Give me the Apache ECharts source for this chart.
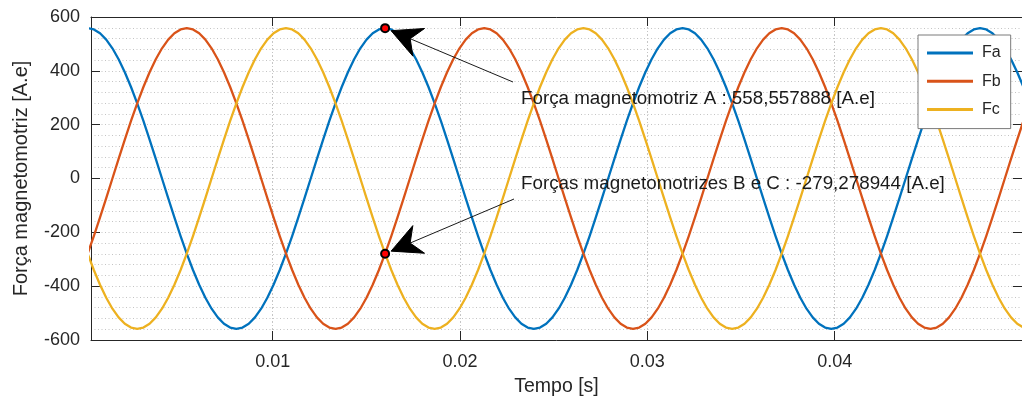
<!DOCTYPE html>
<html>
<head>
<meta charset="utf-8">
<script src="https://cdn.jsdelivr.net/npm/echarts@6/dist/echarts.min.js"></script>
<style>
  html, body { margin: 0; padding: 0; background: #ffffff; }
  #chart { width: 1022px; height: 403px; }
</style>
</head>
<body>
<div id="chart"></div>
<script>
// Sample instants [s]
const time = [
  0.000120, 0.000451, 0.000782, 0.001113, 0.001443, 0.001774, 0.002105, 0.002436,
  0.002767, 0.003098, 0.003428, 0.003759, 0.004090, 0.004421, 0.004752, 0.005083,
  0.005413, 0.005744, 0.006075, 0.006406, 0.006737, 0.007068, 0.007398, 0.007729,
  0.008060, 0.008391, 0.008722, 0.009053, 0.009383, 0.009714, 0.010045, 0.010376,
  0.010707, 0.011038, 0.011368, 0.011699, 0.012030, 0.012361, 0.012692, 0.013023,
  0.013353, 0.013684, 0.014015, 0.014346, 0.014677, 0.015008, 0.015338, 0.015669,
  0.016000, 0.016331, 0.016662, 0.016993, 0.017323, 0.017654, 0.017985, 0.018316,
  0.018647, 0.018978, 0.019308, 0.019639, 0.019970, 0.020301, 0.020632, 0.020963,
  0.021293, 0.021624, 0.021955, 0.022286, 0.022617, 0.022948, 0.023278, 0.023609,
  0.023940, 0.024271, 0.024602, 0.024933, 0.025263, 0.025594, 0.025925, 0.026256,
  0.026587, 0.026918, 0.027248, 0.027579, 0.027910, 0.028241, 0.028572, 0.028903,
  0.029233, 0.029564, 0.029895, 0.030226, 0.030557, 0.030888, 0.031218, 0.031549,
  0.031880, 0.032211, 0.032542, 0.032873, 0.033203, 0.033534, 0.033865, 0.034196,
  0.034527, 0.034858, 0.035188, 0.035519, 0.035850, 0.036181, 0.036512, 0.036843,
  0.037173, 0.037504, 0.037835, 0.038166, 0.038497, 0.038828, 0.039158, 0.039489,
  0.039820, 0.040151, 0.040482, 0.040813, 0.041143, 0.041474, 0.041805, 0.042136,
  0.042467, 0.042798, 0.043128, 0.043459, 0.043790, 0.044121, 0.044452, 0.044783,
  0.045113, 0.045444, 0.045775, 0.046106, 0.046437, 0.046768, 0.047098, 0.047429,
  0.047760, 0.048091, 0.048422, 0.048753, 0.049083, 0.049414, 0.049745, 0.050076
];

// Magnetomotive force of phase A [A.e]
const Fa = [
  558.56, 553.78, 539.53, 516.04, 483.73, 443.13, 394.96, 340.03,
  279.28, 213.75, 144.57, 72.91, 0, -72.91, -144.57, -213.75,
  -279.28, -340.03, -394.96, -443.13, -483.73, -516.04, -539.53, -553.78,
  -558.56, -553.78, -539.53, -516.04, -483.73, -443.13, -394.96, -340.03,
  -279.28, -213.75, -144.57, -72.91, 0, 72.91, 144.57, 213.75,
  279.28, 340.03, 394.96, 443.13, 483.73, 516.04, 539.53, 553.78,
  558.557888, 553.78, 539.53, 516.04, 483.73, 443.13, 394.96, 340.03,
  279.28, 213.75, 144.57, 72.91, 0, -72.91, -144.57, -213.75,
  -279.28, -340.03, -394.96, -443.13, -483.73, -516.04, -539.53, -553.78,
  -558.56, -553.78, -539.53, -516.04, -483.73, -443.13, -394.96, -340.03,
  -279.28, -213.75, -144.57, -72.91, 0, 72.91, 144.57, 213.75,
  279.28, 340.03, 394.96, 443.13, 483.73, 516.04, 539.53, 553.78,
  558.56, 553.78, 539.53, 516.04, 483.73, 443.13, 394.96, 340.03,
  279.28, 213.75, 144.57, 72.91, 0, -72.91, -144.57, -213.75,
  -279.28, -340.03, -394.96, -443.13, -483.73, -516.04, -539.53, -553.78,
  -558.56, -553.78, -539.53, -516.04, -483.73, -443.13, -394.96, -340.03,
  -279.28, -213.75, -144.57, -72.91, 0, 72.91, 144.57, 213.75,
  279.28, 340.03, 394.96, 443.13, 483.73, 516.04, 539.53, 553.78,
  558.56, 553.78, 539.53, 516.04, 483.73, 443.13, 394.96, 340.03
];

// Magnetomotive force of phase B [A.e]
const Fb = [
  -279.28, -213.75, -144.57, -72.91, 0, 72.91, 144.57, 213.75,
  279.28, 340.03, 394.96, 443.13, 483.73, 516.04, 539.53, 553.78,
  558.56, 553.78, 539.53, 516.04, 483.73, 443.13, 394.96, 340.03,
  279.28, 213.75, 144.57, 72.91, 0, -72.91, -144.57, -213.75,
  -279.28, -340.03, -394.96, -443.13, -483.73, -516.04, -539.53, -553.78,
  -558.56, -553.78, -539.53, -516.04, -483.73, -443.13, -394.96, -340.03,
  -279.278944, -213.75, -144.57, -72.91, 0, 72.91, 144.57, 213.75,
  279.28, 340.03, 394.96, 443.13, 483.73, 516.04, 539.53, 553.78,
  558.56, 553.78, 539.53, 516.04, 483.73, 443.13, 394.96, 340.03,
  279.28, 213.75, 144.57, 72.91, 0, -72.91, -144.57, -213.75,
  -279.28, -340.03, -394.96, -443.13, -483.73, -516.04, -539.53, -553.78,
  -558.56, -553.78, -539.53, -516.04, -483.73, -443.13, -394.96, -340.03,
  -279.28, -213.75, -144.57, -72.91, 0, 72.91, 144.57, 213.75,
  279.28, 340.03, 394.96, 443.13, 483.73, 516.04, 539.53, 553.78,
  558.56, 553.78, 539.53, 516.04, 483.73, 443.13, 394.96, 340.03,
  279.28, 213.75, 144.57, 72.91, 0, -72.91, -144.57, -213.75,
  -279.28, -340.03, -394.96, -443.13, -483.73, -516.04, -539.53, -553.78,
  -558.56, -553.78, -539.53, -516.04, -483.73, -443.13, -394.96, -340.03,
  -279.28, -213.75, -144.57, -72.91, 0, 72.91, 144.57, 213.75
];

// Magnetomotive force of phase C [A.e]
const Fc = [
  -279.28, -340.03, -394.96, -443.13, -483.73, -516.04, -539.53, -553.78,
  -558.56, -553.78, -539.53, -516.04, -483.73, -443.13, -394.96, -340.03,
  -279.28, -213.75, -144.57, -72.91, 0, 72.91, 144.57, 213.75,
  279.28, 340.03, 394.96, 443.13, 483.73, 516.04, 539.53, 553.78,
  558.56, 553.78, 539.53, 516.04, 483.73, 443.13, 394.96, 340.03,
  279.28, 213.75, 144.57, 72.91, 0, -72.91, -144.57, -213.75,
  -279.278944, -340.03, -394.96, -443.13, -483.73, -516.04, -539.53, -553.78,
  -558.56, -553.78, -539.53, -516.04, -483.73, -443.13, -394.96, -340.03,
  -279.28, -213.75, -144.57, -72.91, 0, 72.91, 144.57, 213.75,
  279.28, 340.03, 394.96, 443.13, 483.73, 516.04, 539.53, 553.78,
  558.56, 553.78, 539.53, 516.04, 483.73, 443.13, 394.96, 340.03,
  279.28, 213.75, 144.57, 72.91, 0, -72.91, -144.57, -213.75,
  -279.28, -340.03, -394.96, -443.13, -483.73, -516.04, -539.53, -553.78,
  -558.56, -553.78, -539.53, -516.04, -483.73, -443.13, -394.96, -340.03,
  -279.28, -213.75, -144.57, -72.91, 0, 72.91, 144.57, 213.75,
  279.28, 340.03, 394.96, 443.13, 483.73, 516.04, 539.53, 553.78,
  558.56, 553.78, 539.53, 516.04, 483.73, 443.13, 394.96, 340.03,
  279.28, 213.75, 144.57, 72.91, 0, -72.91, -144.57, -213.75,
  -279.28, -340.03, -394.96, -443.13, -483.73, -516.04, -539.53, -553.78
];

const seriesNames = ['Fa', 'Fb', 'Fc'];
const seriesColors = ['#0072BD', '#D95319', '#EDB120'];

// Minor vertical grid positions [s]
const minorTimes = [
  0.002, 0.004, 0.006, 0.008, 0.012, 0.014, 0.016, 0.018,
  0.022, 0.024, 0.026, 0.028, 0.032, 0.034, 0.036, 0.038,
  0.042, 0.044, 0.046, 0.048
];

// Data tips: sample index where the values are read
const probeIndex = 48;

const FONT = '"Liberation Sans", Arial, Helvetica, sans-serif';
const INK = '#262626';
const GRID = '#c4c4c4';
const DOTS = [1, 2.5];
const X_MIN = 0.0003, X_MAX = 0.05;

const fmt = v => v.toFixed(6).replace('.', ',');

const chart = echarts.init(document.getElementById('chart'), null, { renderer: 'canvas' });

const valueSets = [Fa, Fb, Fc];

const axisCommon = {
  type: 'value',
  axisLine: { show: true, onZero: false, lineStyle: { color: INK, width: 1 } },
  axisTick: { show: true, inside: true, length: 9, lineStyle: { color: INK, width: 1 } }
};

const option = {
  animation: false,
  backgroundColor: '#ffffff',
  grid: { left: 91, right: -5, top: 17, bottom: 63, containLabel: false },
  xAxis: [
    Object.assign({}, axisCommon, {
      position: 'bottom', min: X_MIN, max: X_MAX,
      axisLabel: {
        show: true, showMinLabel: false, showMaxLabel: false,
        color: INK, fontFamily: FONT, fontSize: 18, margin: 13
      },
      splitLine: { show: true, lineStyle: { color: GRID, width: 1, type: DOTS } },
      minorSplitLine: { show: false },
      name: 'Tempo [s]', nameLocation: 'middle', nameGap: 37,
      nameTextStyle: { color: INK, fontFamily: FONT, fontSize: 19.5 }
    }),
    Object.assign({}, axisCommon, {
      position: 'top', min: X_MIN, max: X_MAX,
      axisLabel: { show: false }, splitLine: { show: false }
    })
  ],
  yAxis: [
    Object.assign({}, axisCommon, {
      position: 'left', min: -600, max: 600, interval: 200,
      axisLabel: { color: INK, fontFamily: FONT, fontSize: 18, margin: 11 },
      splitLine: { show: true, lineStyle: { color: GRID, width: 1, type: DOTS } },
      minorTick: { show: false, splitNumber: 5 },
      minorSplitLine: { show: true, lineStyle: { color: GRID, width: 1, type: DOTS } },
      name: 'Força magnetomotriz [A.e]', nameLocation: 'middle', nameGap: 60,
      nameTextStyle: { color: INK, fontFamily: FONT, fontSize: 20 }
    }),
    Object.assign({}, axisCommon, {
      position: 'right', min: -600, max: 600, interval: 200,
      axisLabel: { show: false }, splitLine: { show: false }
    })
  ],
  legend: {
    data: seriesNames,
    orient: 'vertical',
    left: 918, top: 35,
    padding: [8, 10, 9, 9],
    itemGap: 8.3,
    itemWidth: 46, itemHeight: 3,
    icon: 'rect',
    backgroundColor: '#ffffff',
    borderColor: '#7a7a7a', borderWidth: 1, borderRadius: 0,
    textStyle: { color: INK, fontFamily: FONT, fontSize: 16, lineHeight: 20, padding: [0, 0, 0, 4] },
    selectedMode: false
  },
  series: [
    // dotted minor vertical grid
    {
      type: 'line', data: [], silent: true, z: 0,
      markLine: {
        silent: true, symbol: 'none', z: 0, animation: false,
        label: { show: false },
        emphasis: { disabled: true },
        lineStyle: { color: GRID, width: 1, type: DOTS },
        data: minorTimes.map(t => ({ xAxis: t }))
      }
    }
  ].concat(seriesNames.map((name, i) => ({
    name: name,
    type: 'line',
    data: time.map((t, k) => [t, valueSets[i][k]]),
    showSymbol: false,
    symbol: 'none',
    smooth: false,
    clip: true,
    z: 2,
    lineStyle: { color: seriesColors[i], width: 2.3, join: 'round' },
    itemStyle: { color: seriesColors[i] },
    emphasis: { disabled: true }
  }))).concat([
    {
      type: 'scatter',
      silent: true,
      z: 6,
      symbol: 'circle',
      symbolSize: 8,
      itemStyle: { color: '#ff0000', borderColor: '#000000', borderWidth: 2, opacity: 1 },
      data: [
        [time[probeIndex], Fa[probeIndex]],
        [time[probeIndex], Fb[probeIndex]]
      ]
    }
  ])
};

chart.setOption(option);

// Annotation arrows pointing at the data tips
const notes = [
  { value: Fa[probeIndex], text: 'Força magnetomotriz A : ' + fmt(Fa[probeIndex]) + ' [A.e]',
    textPos: [521, 98.5], tail: [513, 82] },
  { value: Fb[probeIndex], text: 'Forças magnetomotrizes B e C : ' + fmt(Fb[probeIndex]) + ' [A.e]',
    textPos: [521, 184], tail: [514, 199] }
];

const graphics = [];
notes.forEach(n => {
  const p = chart.convertToPixel({ xAxisIndex: 0, yAxisIndex: 0 }, [time[probeIndex], n.value]);
  const dx = n.tail[0] - p[0], dy = n.tail[1] - p[1];
  const len = Math.hypot(dx, dy);
  const ux = dx / len, uy = dy / len;
  const nx = -uy, ny = ux;
  const tip = [p[0] + ux * 6.5, p[1] + uy * 6.5];
  const L = 30, W = 15;
  const base = [tip[0] + ux * L, tip[1] + uy * L];
  const notch = [tip[0] + ux * L * 0.69, tip[1] + uy * L * 0.69];
  graphics.push({
    type: 'line', z: 100, silent: true,
    shape: { x1: notch[0], y1: notch[1], x2: n.tail[0], y2: n.tail[1] },
    style: { stroke: '#1a1a1a', lineWidth: 1 }
  });
  graphics.push({
    type: 'polygon', z: 101, silent: true,
    shape: { points: [tip, [base[0] + nx * W, base[1] + ny * W], notch, [base[0] - nx * W, base[1] - ny * W]] },
    style: { fill: '#000000', stroke: '#000000', lineWidth: 1 }
  });
  graphics.push({
    type: 'text', z: 102, silent: true,
    x: n.textPos[0], y: n.textPos[1],
    style: {
      text: n.text, fill: '#1a1a1a', font: '18.8px ' + FONT,
      align: 'left', verticalAlign: 'middle'
    }
  });
});

chart.setOption({ graphic: graphics });
</script>
</body>
</html>
